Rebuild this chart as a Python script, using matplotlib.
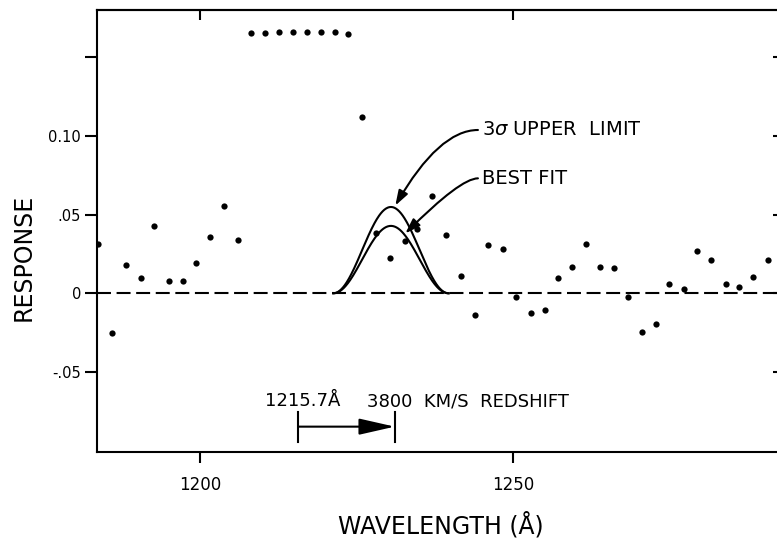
import matplotlib
matplotlib.use('Agg')
import matplotlib.pyplot as plt
import numpy as np

# measured response points (wavelength in A)
wavelength = [1183.75, 1185.99, 1188.18, 1190.53, 1192.65, 1195.00, 1197.28, 1199.36,
              1201.55, 1203.79, 1206.02, 1208.15, 1210.43, 1212.67, 1214.86, 1217.04,
              1219.28, 1221.52, 1223.69, 1225.83, 1228.16, 1230.40, 1232.70, 1234.71,
              1237.11, 1239.30, 1241.65, 1243.88, 1246.05, 1248.35, 1250.48, 1252.83,
              1255.06, 1257.19, 1259.42, 1261.66, 1263.85, 1266.09, 1268.37, 1270.61,
              1272.84, 1274.97, 1277.27, 1279.39, 1281.68, 1283.98, 1286.15, 1288.39,
              1290.69]
response = [0.0316, -0.0251, 0.0179, 0.0099, 0.0428, 0.0080, 0.0080, 0.0190,
            0.0358, 0.0557, 0.0339, 0.1652, 0.1656, 0.1657, 0.1659, 0.1659,
            0.1660, 0.1660, 0.1647, 0.1118, 0.0384, 0.0222, 0.0331, 0.0411,
            0.0618, 0.0371, 0.0111, -0.0137, 0.0304, 0.0282, -0.0023, -0.0127,
            -0.0104, 0.0095, 0.0165, 0.0316, 0.0166, 0.0158, -0.0023, -0.0243,
            -0.0192, 0.0057, 0.0025, 0.0268, 0.0211, 0.0059, 0.0040, 0.0101,
            0.0213]

# line profile fits
fit_centre = 1230.5
fit_halfwidth = 9.2
best_fit_peak = 0.0428
upper_limit_peak = 0.0548

lya_rest = 1215.7
redshift_kms = 3800
c_kms = 299792.0

xticks = [1200, 1250]
yticks = [-0.05, 0, 0.05, 0.10, 0.15]
ytick_labels = ['-.05', '0', '.05', '0.10', '']

plt.rcParams['font.family'] = 'DejaVu Sans'

fig = plt.figure(figsize=(7.77, 5.41), dpi=100)
ax = fig.add_axes([97/777, 1 - 452/541, (780 - 97)/777, 442/541])

ax.axhline(0, color='k', lw=1.5, dashes=(6.7, 2.7))
ax.plot(wavelength, response, 'o', color='k', ms=4.5, mew=0)

x = np.linspace(fit_centre - fit_halfwidth, fit_centre + fit_halfwidth, 200)
prof = np.cos(np.pi * (x - fit_centre) / (2 * fit_halfwidth))**2
ax.plot(x, best_fit_peak * prof, color='k', lw=1.5)
ax.plot(x, upper_limit_peak * prof, color='k', lw=1.5)

# labels for the fits
ax.text(1245.0, 0.1037, r'3$\sigma$ UPPER  LIMIT', fontsize=14, ha='left', va='center')
ax.annotate('', xy=(1231.2, 0.0557), xytext=(1244.4, 0.1037),
            arrowprops=dict(arrowstyle='-|>,head_length=0.9,head_width=0.3', color='k', lw=1.5,
                            connectionstyle='angle3,angleA=0,angleB=60',
                            shrinkA=0, shrinkB=0))
ax.text(1245.0, 0.0730, 'BEST FIT', fontsize=14, ha='left', va='center')
ax.annotate('', xy=(1232.8, 0.0380), xytext=(1244.4, 0.0730),
            arrowprops=dict(arrowstyle='-|>,head_length=0.9,head_width=0.3', color='k', lw=1.5,
                            connectionstyle='angle3,angleA=0,angleB=45',
                            shrinkA=0, shrinkB=0))

# redshift bracket
lya_shift = lya_rest * (1 + redshift_kms / c_kms)
ax.plot([lya_rest, lya_rest], [-0.0756, -0.0946], color='k', lw=1.5)
ax.plot([lya_shift, lya_shift], [-0.0756, -0.0946], color='k', lw=1.5)
ax.annotate('', xy=(lya_shift, -0.0847), xytext=(lya_rest, -0.0847),
            arrowprops=dict(arrowstyle='-|>,head_length=2.2,head_width=0.5', color='k', lw=1.5,
                            shrinkA=0, shrinkB=0))
ax.text(1216.45, -0.0716, '1215.7Å', fontsize=13, ha='center', va='baseline')
ax.text(1226.6, -0.0716, '3800  KM/S  REDSHIFT', fontsize=13, ha='left', va='baseline')

ax.set_xlim(1183.55, 1292.65)
ax.set_ylim(-0.1008, 0.1799)
ax.set_xticks(xticks)
ax.set_xticklabels([str(t) for t in xticks])
ax.set_yticks(yticks)
ax.set_yticklabels(ytick_labels)
ax.tick_params(axis='y', direction='out', length=8.6, width=1.5, pad=3, labelsize=10.5)
ax.tick_params(axis='x', direction='out', length=8, width=1.5, pad=9, labelsize=12)
for s in ax.spines.values():
    s.set_linewidth(1.5)

top = ax.secondary_xaxis('top')
top.set_xticks(xticks)
top.set_xticklabels([])
top.tick_params(direction='in', length=7, width=1.5)
top.spines['top'].set_linewidth(1.5)
right = ax.secondary_yaxis('right')
right.set_yticks(yticks)
right.set_yticklabels([])
right.tick_params(direction='in', length=5, width=1.5)

fig.text(24/777, 1 - 257/541, 'RESPONSE', rotation=90, fontsize=17, ha='center', va='center')
fig.text(441/777, 1 - 525/541, 'WAVELENGTH (Å)', fontsize=17, ha='center', va='center')

fig.savefig('out.png', dpi=100)
